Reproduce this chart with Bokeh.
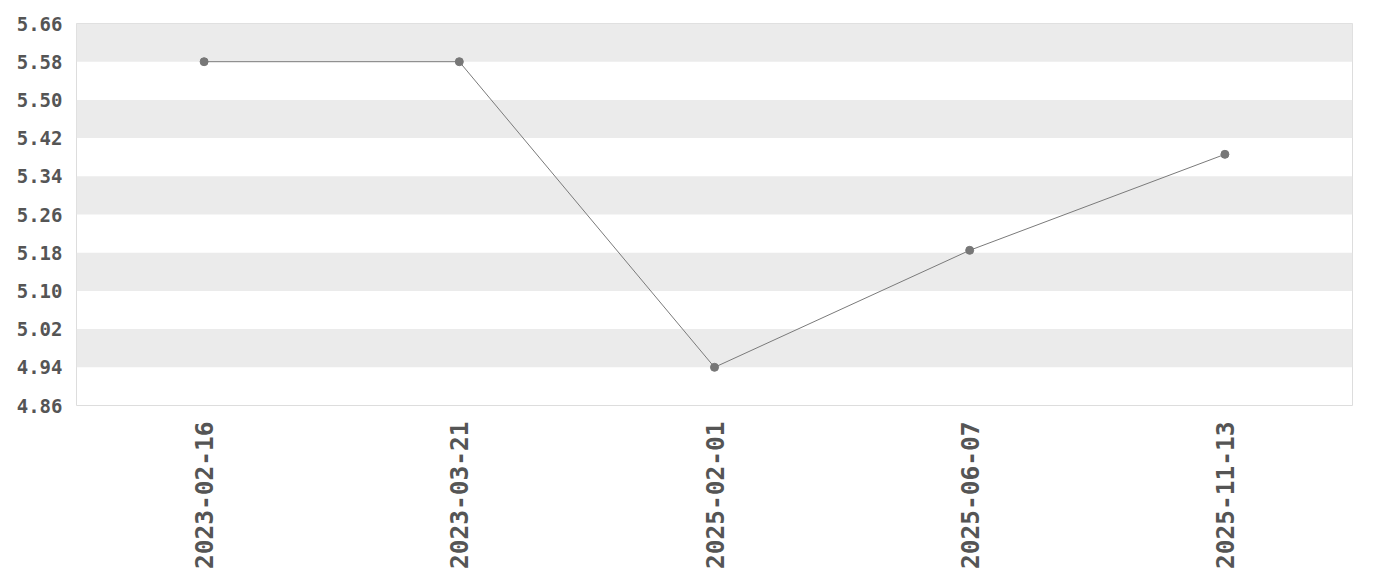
from bokeh.plotting import figure
from bokeh.models import FixedTicker, NumeralTickFormatter, Range1d
from bokeh.embed import file_html
from bokeh.resources import INLINE
import math

dates = ["2023-02-16", "2023-03-21", "2025-02-01", "2025-06-07", "2025-11-13"]
values = [5.58, 5.58, 4.94, 5.185, 5.386]
y_ticks = [round(4.86 + 0.08 * i, 2) for i in range(11)]

p = figure(x_range=dates, y_range=Range1d(4.86, 5.66), width=1364, height=572,
           output_backend="svg", toolbar_location=None)
p.min_border_left = 76
p.min_border_right = 12
p.min_border_top = 23
p.min_border_bottom = 10

p.background_fill_color = "white"
p.outline_line_color = "#dddddd"
p.outline_line_width = 1

p.line(dates, values, line_color="#7a7a7a", line_width=1)
p.scatter(dates, values, size=8, fill_color="#777777", line_color="#777777")

p.xgrid.grid_line_color = None
p.ygrid.grid_line_color = None
p.ygrid.ticker = FixedTicker(ticks=y_ticks)
p.ygrid.band_fill_color = "#ebebeb"
p.ygrid.band_fill_alpha = 1.0

p.yaxis.ticker = FixedTicker(ticks=y_ticks)
p.yaxis.formatter = NumeralTickFormatter(format="0.00")

for ax in (p.xaxis, p.yaxis):
    ax.axis_line_color = None
    ax.major_tick_line_color = None
    ax.minor_tick_line_color = None
    ax.major_tick_out = 0
    ax.major_tick_in = 0
    ax.major_label_text_font = "DejaVu Sans Mono"
    ax.major_label_text_font_style = "bold"
    ax.major_label_text_color = "#555555"

p.yaxis.major_label_text_font_size = "19px"
p.yaxis.major_label_standoff = 14
p.xaxis.major_label_text_font_size = "24.5px"
p.xaxis.major_label_orientation = math.pi / 2
p.xaxis.major_label_standoff = 16

open("out.html", "w").write(file_html(p, INLINE))
